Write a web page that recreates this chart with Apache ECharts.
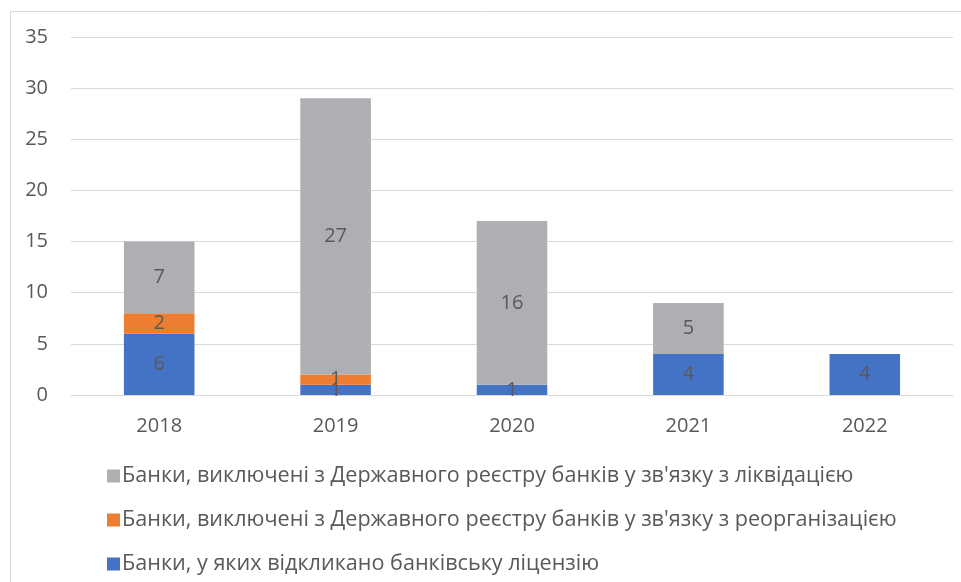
<!DOCTYPE html>
<html>
<head>
<meta charset="utf-8">
<script src="https://cdn.jsdelivr.net/npm/echarts@6/dist/echarts.min.js"></script>
<style>
html,body{margin:0;padding:0;background:#fff;}
#c{width:961px;height:582px;}
</style>
</head>
<body>
<div id="c"></div>
<script>
const categories = ['2018', '2019', '2020', '2021', '2022'];
const revokedName = 'Банки, у яких відкликано банківську ліцензію';
const reorgName = 'Банки, виключені з Державного реєстру банків у зв\'язку з реорганізацією';
const liqName = 'Банки, виключені з Державного реєстру банків у зв\'язку з ліквідацією';
const revoked = [6, 1, 1, 4, 4];
const reorg = [2, 1, 0, 0, 0];
const liquidated = [7, 27, 16, 5, 0];
const yTicks = [0, 5, 10, 15, 20, 25, 30, 35];

const FONT = '"Open Sans", "Noto Sans", sans-serif';
const TXT = '#595959';

const chart = echarts.init(document.getElementById('c'), null, {renderer: 'canvas'});

function mkSeries(name, data, color) {
  return {
    name: name,
    type: 'bar',
    stack: 'total',
    data: data,
    barWidth: '40%',
    itemStyle: {color: color},
    label: {
      show: true,
      position: 'inside',
      color: TXT,
      fontSize: 20,
      fontFamily: FONT,
      formatter: p => (p.value ? String(p.value) : '')
    },
    emphasis: {disabled: true}
  };
}

chart.setOption({
  animation: false,
  textStyle: {fontFamily: FONT},
  graphic: [{
    type: 'rect',
    shape: {x: 10.5, y: 11.5, width: 1000, height: 1000},
    style: {fill: 'none', stroke: '#d9d9d9', lineWidth: 1},
    silent: true,
    z: -1
  }],
  grid: {left: 71, right: 8, top: 37, bottom: 187, containLabel: false},
  xAxis: {
    type: 'category',
    data: categories,
    axisLine: {show: true, lineStyle: {color: '#d9d9d9', width: 1}},
    axisTick: {show: false},
    axisLabel: {color: TXT, fontSize: 20, fontFamily: FONT, margin: 21}
  },
  yAxis: {
    type: 'value',
    min: yTicks[0],
    max: yTicks[yTicks.length - 1],
    interval: 5,
    axisLine: {show: false},
    axisTick: {show: false},
    splitLine: {lineStyle: {color: '#d9d9d9', width: 1}},
    axisLabel: {color: TXT, fontSize: 20, fontFamily: FONT, margin: 23}
  },
  legend: {
    orient: 'vertical',
    left: 102,
    top: 459,
    height: 120,
    width: 850,
    data: [liqName, reorgName, revokedName],
    itemWidth: 13,
    itemHeight: 13,
    itemGap: 20,
    icon: 'rect',
    textStyle: {color: TXT, fontSize: 21.6, fontFamily: FONT, lineHeight: 24, padding: [0, 0, 0, -3]}
  },
  series: [
    mkSeries(revokedName, revoked, '#4472C4'),
    mkSeries(reorgName, reorg, '#ED7D31'),
    mkSeries(liqName, liquidated, '#AEAFB2')
  ]
});
</script>
</body>
</html>
